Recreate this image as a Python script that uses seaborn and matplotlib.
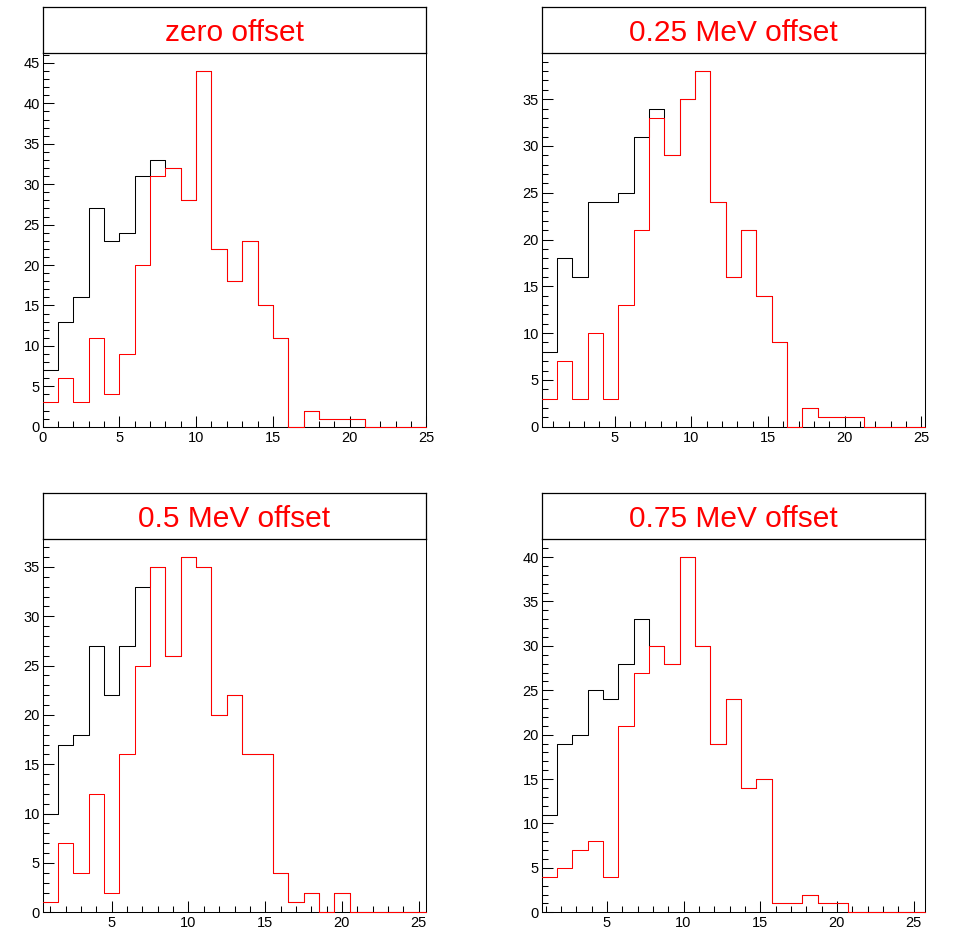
import numpy as np
import pandas as pd
import matplotlib
matplotlib.use('Agg')
import matplotlib.pyplot as plt
import seaborn as sns
from matplotlib.ticker import MultipleLocator

# bin counts, 25 bins of width 1, first edge at the offset
offsets = [0.0, 0.25, 0.5, 0.75]
titles = ['zero offset', '0.25 MeV offset', '0.5 MeV offset', '0.75 MeV offset']

all_zero = [7, 13, 16, 27, 23, 24, 31, 33, 32, 28, 44, 22, 18, 23, 15, 11, 0, 2, 1, 1, 1, 0, 0, 0, 0]
sel_zero = [3, 6, 3, 11, 4, 9, 20, 31, 32, 28, 44, 22, 18, 23, 15, 11, 0, 2, 1, 1, 1, 0, 0, 0, 0]

all_025 = [8, 18, 16, 24, 24, 25, 31, 34, 29, 35, 38, 24, 16, 21, 14, 9, 0, 2, 1, 1, 1, 0, 0, 0, 0]
sel_025 = [3, 7, 3, 10, 3, 13, 21, 33, 29, 35, 38, 24, 16, 21, 14, 9, 0, 2, 1, 1, 1, 0, 0, 0, 0]

all_050 = [10, 17, 18, 27, 22, 27, 33, 35, 26, 36, 35, 20, 22, 16, 16, 4, 1, 2, 0, 2, 0, 0, 0, 0, 0]
sel_050 = [1, 7, 4, 12, 2, 16, 25, 35, 26, 36, 35, 20, 22, 16, 16, 4, 1, 2, 0, 2, 0, 0, 0, 0, 0]

all_075 = [11, 19, 20, 25, 24, 28, 33, 30, 28, 40, 30, 19, 24, 14, 15, 1, 1, 2, 1, 1, 0, 0, 0, 0, 0]
sel_075 = [4, 5, 7, 8, 4, 21, 27, 30, 28, 40, 30, 19, 24, 14, 15, 1, 1, 2, 1, 1, 0, 0, 0, 0, 0]

all_counts = [all_zero, all_025, all_050, all_075]
sel_counts = [sel_zero, sel_025, sel_050, sel_075]

sns.set_theme(style='white')
plt.rcParams['font.family'] = ['Liberation Sans', 'DejaVu Sans']
plt.rcParams['axes.linewidth'] = 0.75
plt.rcParams['axes.edgecolor'] = 'black'

W, H = 955, 949
fig = plt.figure(figsize=(W / 100, H / 100), dpi=100)

# pixel boxes of each pad frame: left, top, right, bottom
frames = [(42.7, 53.3, 426.3, 426.7), (541.7, 53.3, 925.0, 426.7),
          (42.7, 539.3, 426.3, 912.3), (541.7, 539.3, 925.0, 912.3)]
title_h = 46.0
nbins = 25

for i, (off, title) in enumerate(zip(offsets, titles)):
    l, t, r, b = frames[i]
    ax = fig.add_axes([l / W, 1 - b / H, (r - l) / W, (b - t) / H])
    centers = off + 0.5 + np.arange(nbins)
    df = pd.DataFrame({'x': centers, 'all': all_counts[i], 'sel': sel_counts[i]})
    brange = (off, off + nbins)

    # black: all entries, red: selected entries drawn on top
    sns.histplot(data=df, x='x', weights='all', binwidth=1, binrange=brange,
                 element='step', fill=False, color='black', linewidth=0.75,
                 snap=True, clip_on=False, ax=ax, zorder=3)
    sns.histplot(data=df, x='x', weights='sel', binwidth=1, binrange=brange,
                 element='step', fill=False, color='red', linewidth=0.75,
                 snap=True, clip_on=False, ax=ax, zorder=4)

    ymax = max(all_counts[i]) * 1.05
    ax.set_xlim(*brange)
    ax.set_ylim(0, ymax)
    ax.set_xlabel('')
    ax.set_ylabel('')
    ax.xaxis.set_major_locator(MultipleLocator(5))
    ax.xaxis.set_minor_locator(MultipleLocator(1))
    ax.yaxis.set_major_locator(MultipleLocator(5))
    ax.yaxis.set_minor_locator(MultipleLocator(1))
    ax.tick_params(which='both', direction='in', bottom=True, left=True, top=False,
                   right=False, width=0.75, colors='black', labelsize=10.5)
    ax.tick_params(which='major', length=8)
    ax.tick_params(which='minor', length=4.2)
    ax.tick_params(axis='x', pad=3)
    ax.tick_params(axis='y', pad=2)
    for sp in ax.spines.values():
        sp.set_visible(True)
        sp.set_color('black')

    # title box above the frame
    tax = fig.add_axes([l / W, 1 - t / H, (r - l) / W, title_h / H])
    tax.set_xticks([])
    tax.set_yticks([])
    for sp in tax.spines.values():
        sp.set_color('black')
        sp.set_linewidth(0.9)
    tax.text(0.5, 0.44, title, color='red', fontsize=21.5, ha='center', va='center',
             transform=tax.transAxes)

fig.savefig('out.png', dpi=100)
plt.close(fig)
